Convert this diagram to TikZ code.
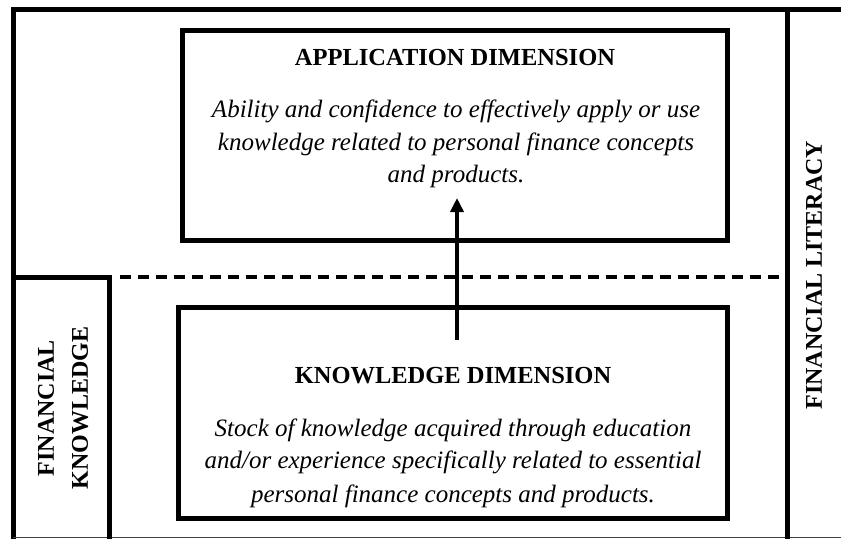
\documentclass[tikz,border=0pt]{standalone}
\usepackage{fontspec}
\setmainfont{Liberation Serif}
\usetikzlibrary{arrows.meta}
\tikzset{
  frameline/.style={line width=5pt},
  boxline/.style={draw,line width=5pt,inner sep=0pt},
  titletext/.style={font=\fontsize{24.5}{28}\selectfont\bfseries,anchor=base,inner sep=0pt},
  bodytext/.style={font=\fontsize{25}{33}\selectfont\itshape,anchor=base,inner sep=0pt},
  sidetext/.style={font=\fontsize{24}{34}\selectfont\bfseries,rotate=90,align=center,inner sep=0pt},
  dashline/.style={line width=3.5pt,dash pattern=on 11pt off 7pt},
  arrowline/.style={line width=4pt,-{Triangle[length=14pt,width=13pt]}}
}
\begin{document}
\begin{tikzpicture}[x=1pt,y=-1pt]
\useasboundingbox (0,0) rectangle (841,539);
% outer frame
\draw[frameline] (13,539) -- (13,9) -- (841,9);
\draw[line width=1.5pt,black!75] (13,537.5) -- (841,537.5);
\draw[frameline] (787,9) -- (787,539);
% financial knowledge column
\draw[frameline] (13,277) -- (109,277) -- (109,539);
% dashed divider
\coordinate (dashL) at (120,277);
\coordinate (dashR) at (784,277);
\draw[dashline] (dashL) -- (dashR);
% boxes
\node[boxline,minimum width=545pt,minimum height=210pt] (app) at (454.5,135) {};
\node[boxline,minimum width=549pt,minimum height=211pt] (know) at (452.5,412.5) {};
% application texts
\node[titletext] (appT) at (455,65) {APPLICATION DIMENSION};
\node[bodytext] (appL1) at (456,117) {Ability and confidence to effectively apply or use};
\node[bodytext] (appL2) at (456,150) {knowledge related to personal finance concepts};
\node[bodytext] (appL3) at (456,182) {and products.};
% knowledge texts
\node[titletext] (knowT) at (453,383) {KNOWLEDGE DIMENSION};
\node[bodytext] (knowL1) at (453,436) {Stock of knowledge acquired through education};
\node[bodytext] (knowL2) at (453,468) {and/or experience specifically related to essential};
\node[bodytext] (knowL3) at (453,502) {personal finance concepts and products.};
% arrow
\coordinate (arrS) at (457,340);
\coordinate (arrE) at (457,198);
\draw[arrowline] (arrS) -- (arrE);
% side labels
\node[sidetext] (lit) at (814,275) {FINANCIAL LITERACY};
\node[sidetext] (fk) at (63,408) {FINANCIAL\\KNOWLEDGE};
\end{tikzpicture}
\end{document}
